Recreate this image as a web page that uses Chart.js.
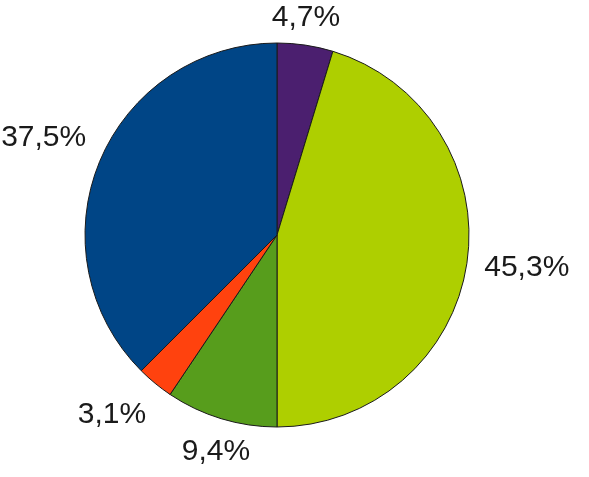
<!DOCTYPE html>
<html><head><meta charset="utf-8">
<script src="https://cdn.jsdelivr.net/npm/chart.js@4/dist/chart.umd.min.js"></script>
<style>html,body{margin:0;padding:0;background:#fff;}#wrap{width:589px;height:477px;}</style>
</head><body><div id="wrap"><canvas id="c" width="589" height="477"></canvas></div>
<script>
const categories = ['A', 'B', 'C', 'D', 'E'];
const values = [4.7, 45.3, 9.4, 3.1, 37.5];
const valueLabels = ['4,7%', '45,3%', '9,4%', '3,1%', '37,5%'];
const colors = ['#4B1F6F', '#AECF00', '#579D1C', '#FF420E', '#004586'];

const labelPlugin = {
  id: 'outLabels',
  afterDatasetsDraw(chart, args, opts) {
    const ctx = chart.ctx;
    const meta = chart.getDatasetMeta(0);
    ctx.save();
    ctx.font = '30px "Liberation Sans", Arial, sans-serif';
    ctx.fillStyle = '#1a1a1a';
    ctx.textAlign = 'center';
    ctx.textBaseline = 'middle';
    meta.data.forEach((arc, i) => {
      const p = arc.getProps(['x','y','startAngle','endAngle','outerRadius'], true);
      const mid = (p.startAngle + p.endAngle) / 2;
      const dx = Math.cos(mid), dy = Math.sin(mid);
      const txt = valueLabels[i];
      const w = ctx.measureText(txt).width;
      const h = 22;
      const d = p.outerRadius + opts.gap;
      const nudge = opts.nudges[i] || [0,0];
      const x = p.x + (d + w/2) * dx + nudge[0];
      const y = p.y + (d + h/2) * dy + nudge[1];
      ctx.fillText(txt, x, y + 1);
    });
    ctx.restore();
  }
};

new Chart(document.getElementById('c'), {
  type: 'pie',
  data: {
    labels: categories,
    datasets: [{
      data: values,
      backgroundColor: colors,
      borderColor: '#1a1a1a',
      borderWidth: 1,
      radius: 192
    }]
  },
  options: {
    responsive: false,
    animation: false,
    layout: { padding: { left: 0, right: 35, top: 0, bottom: 7 } },
    plugins: {
      legend: { display: false },
      tooltip: { enabled: false },
      outLabels: { gap: 18, nudges: [[-7,0],[0,-1],[10,4],[-10,8],[0,-14]] }
    }
  },
  plugins: [labelPlugin]
});
</script></body></html>
